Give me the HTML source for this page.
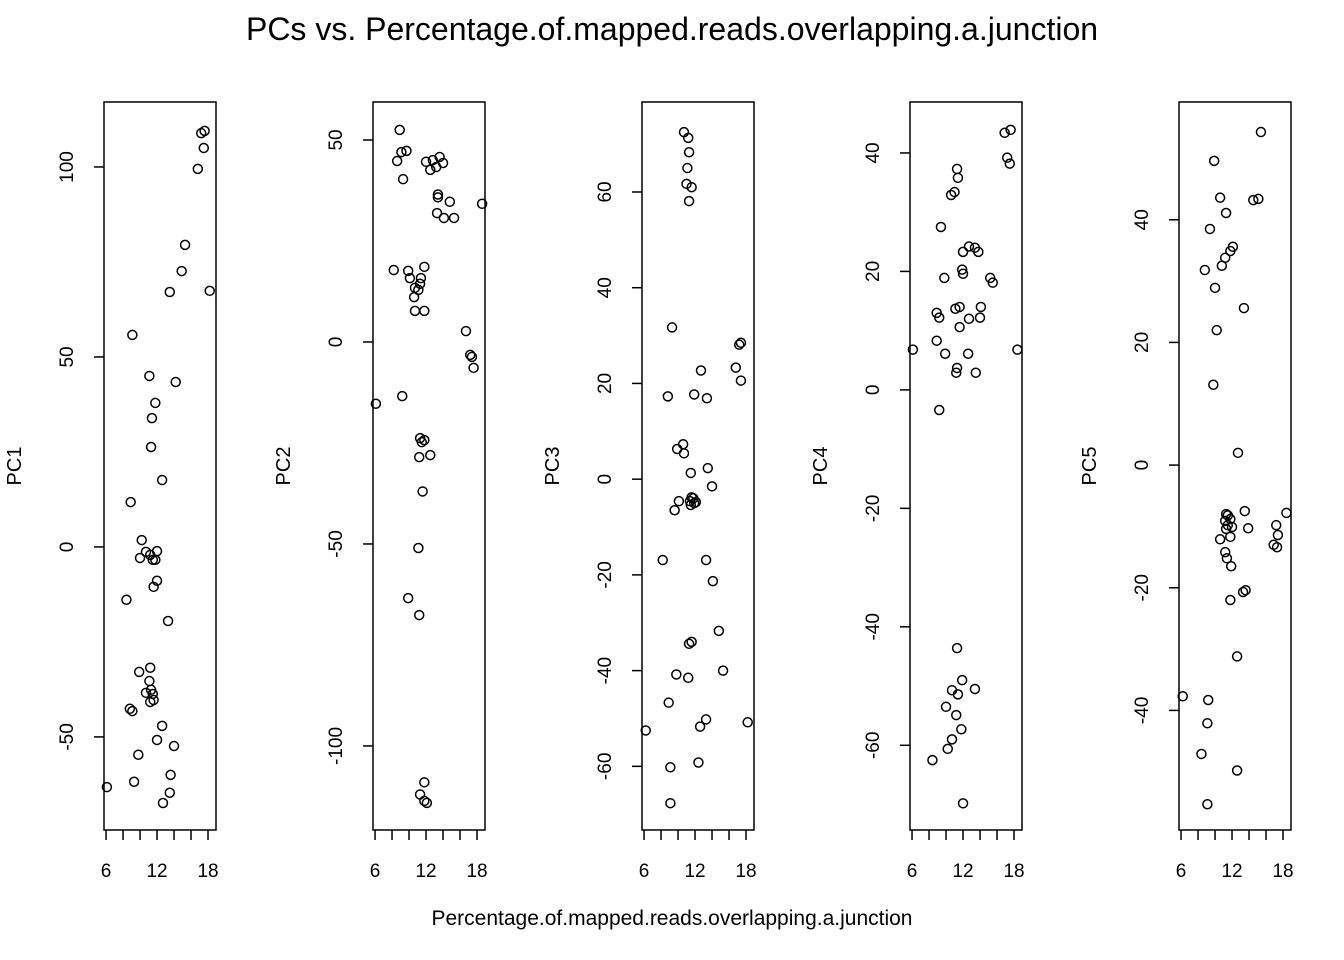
<!DOCTYPE html>
<html><head><meta charset="utf-8"><style>
html,body{margin:0;padding:0;background:#fff}
svg{display:block;font-family:"Liberation Sans",Arial,sans-serif}
</style></head><body>
<svg id="chart" width="1344" height="960">
<text x="672" y="40" font-size="32" text-anchor="middle">PCs vs. Percentage.of.mapped.reads.overlapping.a.junction</text>
<text x="672" y="925" font-size="21" text-anchor="middle">Percentage.of.mapped.reads.overlapping.a.junction</text>
</svg>
<script>
const panelNames=["PC1","PC2","PC3","PC4","PC5"];
const xTicks=[6,8,10,12,14,16,18];
const xTickLabels=["6","","","12","","","18"];
const yTicks1=[-50,0,50,100];
const yTicks2=[-100,-50,0,50];
const yTicks3=[-60,-40,-20,0,20,40,60];
const yTicks4=[-60,-40,-20,0,20,40];
const yTicks5=[-40,-20,0,20,40];
const yDomains=[[-74.5,117.1],[-120.8,59.4],[-73.3,78.8],[-74.3,48.6],[-59.5,59.2]];
const xDomain=[5.76,18.94];
const x1=[6.1,9.1,8.9,8.4,10.2,10.0,10.7,11.2,11.5,12.0,11.8,11.1,11.8,11.4,11.3,12.6,12.0,11.6,13.3,9.9,11.2,11.1,11.3,11.5,10.7,11.2,11.6,8.8,9.1,12.6,12.0,9.8,14.0,9.3,13.6,13.5,12.7,13.5,14.9,15.3,16.8,17.2,17.6,17.5,18.2,14.2];
const y1=[-63.2,55.8,11.8,-13.9,1.8,-2.9,-1.3,-2.1,-3.4,-1.1,-3.4,45,37.9,33.9,26.3,17.6,-8.9,-10.5,-19.5,-32.9,-31.8,-35.3,-37.6,-38.7,-38.4,-40.8,-40.3,-42.6,-43.2,-47.1,-50.8,-54.7,-52.4,-61.8,-60,-64.7,-67.4,67.1,72.6,79.5,99.5,108.9,109.5,105,67.4,43.4];
const x2=[6.1,8.9,8.6,9.1,9.7,9.3,8.2,9.9,10.1,10.7,10.6,11.3,11.4,11.1,11.8,11.8,10.7,9.2,12,12.5,12.8,13.2,13.6,14,13.4,13.4,13.3,14.8,14.1,15.3,18.6,16.7,17.2,17.4,17.6,11.3,11.8,11.5,11.2,12.5,11.6,11.1,9.9,11.2,11.8,11.3,11.8,12.1];
const y2=[-15.3,52.5,44.8,47,47.3,40.3,17.8,17.6,15.8,13.4,11.1,14.4,15.8,12.9,18.6,7.7,7.7,-13.4,44.6,42.6,45,43.3,45.8,44.3,36.5,35.8,31.9,34.7,30.7,30.7,34.2,2.7,-3.2,-3.7,-6.4,-23.8,-24.3,-24.8,-28.5,-28,-37,-51,-63.4,-67.6,-109,-112,-113.6,-114.1];
const x3=[9.3,8.8,8.2,6.2,8.9,9.1,9.1,10.7,11.2,11.1,11.3,11,11.6,11.3,9.9,10.6,10.7,11.5,10.1,11.4,11.8,11.9,12.1,11.6,11.5,9.6,12.7,11.9,13.4,13.5,14,13.3,14.1,11.3,11.6,11.2,9.8,14.8,15.3,13.3,12.6,12.4,16.8,17.2,17.4,17.4,18.2];
const y3=[31.7,17.3,-16.9,-52.5,-46.7,-60.2,-67.7,72.5,71.3,65,68.3,61.7,61,58.1,6.3,7.3,5.4,1.3,-4.6,-4.6,-4,-5,-4.8,-3.8,-5.4,-6.5,22.7,17.7,16.9,2.3,-1.5,-16.9,-21.3,-34.4,-34,-41.5,-40.8,-31.7,-40,-50.2,-51.7,-59.2,23.3,28.1,28.5,20.6,-50.8];
const x4=[6.1,8.4,9.2,8.9,9.2,8.9,9.4,9.9,9.8,10.6,11,11.3,11.4,11.1,11.6,11.3,11.2,11.6,11.9,12,12,12.7,12.6,12.7,13.4,13.8,13.5,14.1,14,15.2,15.5,16.9,17.6,17.2,17.5,18.4,11.3,10.7,11.9,11.4,13.4,10,11.2,11.8,10.7,10.2,12];
const y4=[6.8,-62.5,-3.4,8.3,12.2,13,27.5,6.1,18.9,32.9,33.4,37.3,35.8,13.7,14,3.7,2.9,10.6,20.3,19.6,23.3,12,6.1,24.2,24,23.3,2.9,14,12.2,18.9,18.1,43.4,43.9,39.2,38.2,6.8,-43.6,-50.7,-49,-51.4,-50.5,-53.5,-54.9,-57.3,-59,-60.6,-69.8];
const x5=[6.2,8.4,9.2,9.1,9.1,8.8,9.4,9.9,10,9.8,10.2,10.6,10.8,11.2,11.3,11.8,12.1,13.4,12.7,14.5,15.1,15.4,10.6,11.3,11.2,11.5,11.8,11.3,11.5,12,11.8,11.2,11.4,11.9,11.8,13.3,13.6,13.5,13.9,12.6,12.6,16.9,17.4,17.3,17.2,18.4];
const y5=[-37.7,-47.1,-38.3,-42.1,-55.3,31.8,38.5,49.6,28.9,13.1,22,43.6,32.5,33.8,41.1,34.9,35.6,25.6,2,43.2,43.4,54.3,-12.1,-8,-9.1,-9.8,-8.8,-10.4,-8.2,-10.1,-11.7,-14.2,-15.2,-16.5,-22,-20.7,-20.4,-7.5,-10.3,-31.2,-49.8,-13,-11.4,-13.4,-9.8,-7.8];
const yTickSets=[yTicks1,yTicks2,yTicks3,yTicks4,yTicks5];
const xSets=[x1,x2,x3,x4,x5];
const ySets=[y1,y2,y3,y4,y5];
const panelLeft=[104,373,642,910,1179];
const panelW=112, plotTop=102, plotBottom=830;
const NS="http://www.w3.org/2000/svg";
const svgEl=document.getElementById('chart');
function mk(tag,attrs,parent){const e=document.createElementNS(NS,tag);for(const k in attrs)e.setAttribute(k,attrs[k]);(parent||svgEl).appendChild(e);return e;}
for(let p=0;p<5;p++){
  const L=panelLeft[p];
  const g=mk('g',{});
  
  
  const xs=v=>L+(v-xDomain[0])/(xDomain[1]-xDomain[0])*panelW;
  const yd=yDomains[p];
  const ys=v=>plotBottom-(v-yd[0])/(yd[1]-yd[0])*(plotBottom-plotTop);
  const box=mk('rect',{x:L,y:plotTop,width:panelW,height:plotBottom-plotTop,fill:'none',stroke:'#000','stroke-width':1.5},g);
  
  
  xTicks.forEach((t,i)=>{
    const tk=mk('line',{x1:xs(t),x2:xs(t),y1:plotBottom,y2:plotBottom+10,stroke:'#000','stroke-width':1.5},g);
    
    
    if(xTickLabels[i]){const tx=mk('text',{x:xs(t),y:877,'font-size':19,'text-anchor':'middle'},g);tx.textContent=xTickLabels[i];
      
      }
  });
  const yt=yTickSets[p];
  yt.forEach(t=>{
    const tk=mk('line',{x1:L-10,x2:L,y1:ys(t),y2:ys(t),stroke:'#000','stroke-width':1.5},g);
    
    
    const tx=mk('text',{x:L-31,y:ys(t),'font-size':19,'text-anchor':'middle',transform:`rotate(-90 ${L-31} ${ys(t)})`},g);
    tx.textContent=String(t);
    
    
  });
  const yl=mk('text',{x:L-83,y:466,'font-size':20,'text-anchor':'middle',transform:`rotate(-90 ${L-83} 466)`},g);
  yl.textContent=panelNames[p];
  
  
  const X=xSets[p],Y=ySets[p];
  for(let i=0;i<X.length;i++){
    const c=mk('circle',{cx:xs(X[i]),cy:ys(Y[i]),r:4.5,fill:'none',stroke:'#000','stroke-width':1.5},g);
    
    
  }
}
</script>
</body></html>
